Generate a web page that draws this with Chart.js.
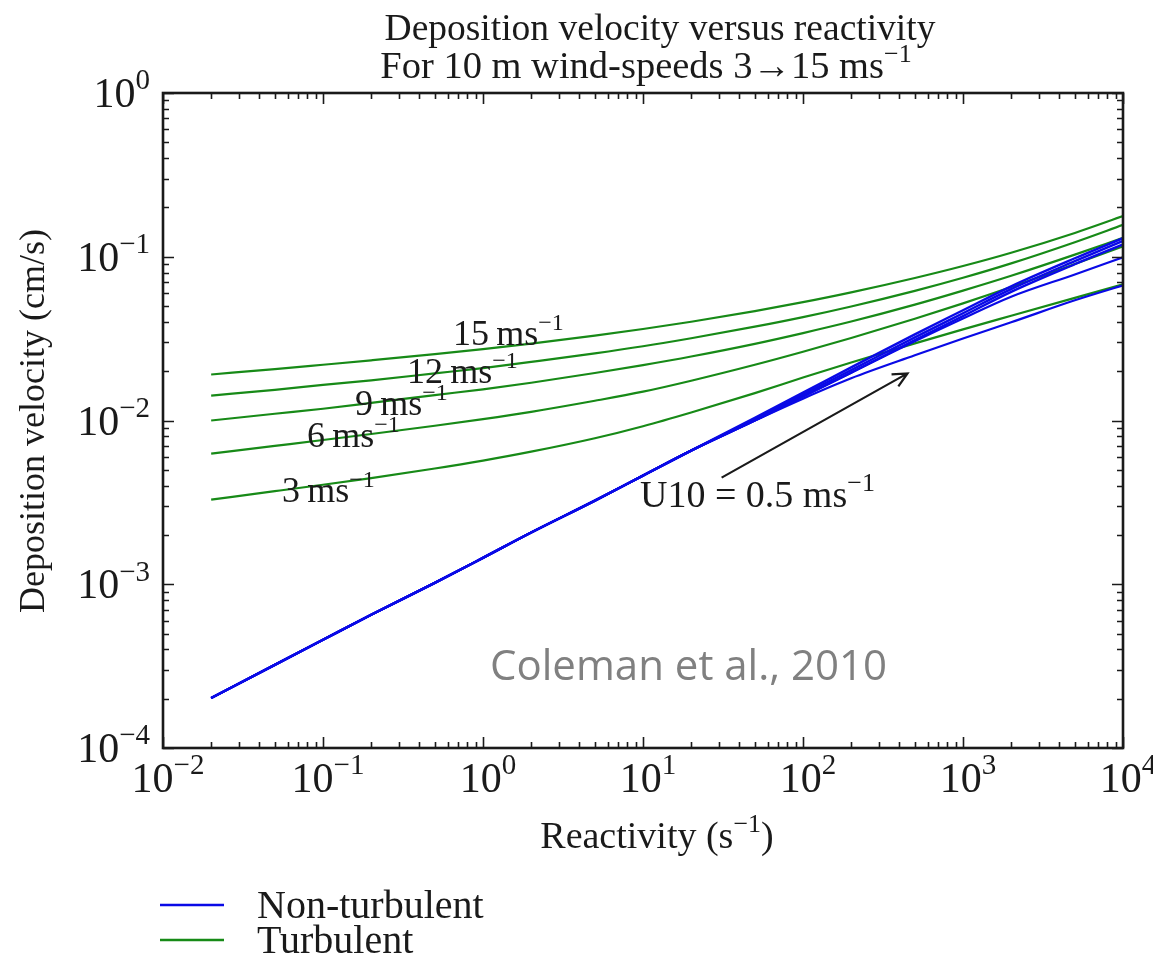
<!DOCTYPE html>
<html lang="en">
<head>
<meta charset="UTF-8">
<title>Deposition velocity versus reactivity</title>
<script src="https://cdn.jsdelivr.net/npm/chart.js"></script>
<style>
  body { margin: 0; background: #fff; }
  canvas { display: block; }
</style>
</head>
<body>
<canvas id="myChart" width="1153" height="958"></canvas>
<script>
// reactivity (s^-1) sample points
const reactivity = [0.02, 0.05, 0.1, 0.2, 0.5, 1, 2, 5, 10, 20, 50, 100, 200, 500, 1000, 2000, 5000, 10000];

// turbulent deposition velocity (cm/s), one list per 10 m wind speed
const turb15 = [0.0191, 0.0206, 0.0219, 0.0233, 0.0254, 0.0273, 0.0295, 0.0330, 0.0362, 0.0401, 0.0466, 0.0528, 0.0606, 0.0742, 0.0878, 0.1058, 0.1398, 0.1771];
const turb12 = [0.0142, 0.0154, 0.0165, 0.0176, 0.0194, 0.0209, 0.0228, 0.0257, 0.0284, 0.0318, 0.0374, 0.0428, 0.0497, 0.0619, 0.0744, 0.0911, 0.1227, 0.1565];
const turb9 = [0.0100, 0.0110, 0.0118, 0.0128, 0.0143, 0.0155, 0.0170, 0.0195, 0.0218, 0.0246, 0.0294, 0.0342, 0.0402, 0.0510, 0.0621, 0.0765, 0.1030, 0.1305];
const turb6 = [0.00628, 0.00700, 0.00760, 0.00827, 0.00929, 0.0102, 0.0113, 0.0132, 0.0150, 0.0175, 0.0219, 0.0263, 0.0319, 0.0418, 0.0519, 0.0653, 0.0902, 0.1159];
const turb3 = [0.00329, 0.00370, 0.00405, 0.00445, 0.00509, 0.00569, 0.00645, 0.00779, 0.00923, 0.0112, 0.0147, 0.0183, 0.0226, 0.0296, 0.0360, 0.0436, 0.0561, 0.0678];

// non-turbulent deposition velocity (cm/s)
const nonTurbA = [2.02e-4, 3.22e-4, 4.58e-4, 6.51e-4, 1.02e-3, 1.45e-3, 2.07e-3, 3.24e-3, 4.61e-3, 6.55e-3, 1.04e-2, 1.48e-2, 2.11e-2, 3.36e-2, 4.71e-2, 6.60e-2, 9.79e-2, 0.130];
const nonTurbB = [2.02e-4, 3.22e-4, 4.58e-4, 6.51e-4, 1.02e-3, 1.45e-3, 2.07e-3, 3.24e-3, 4.61e-3, 6.55e-3, 1.02e-2, 1.44e-2, 2.03e-2, 3.22e-2, 4.52e-2, 6.34e-2, 9.40e-2, 0.125];
const nonTurbC = [2.02e-4, 3.22e-4, 4.58e-4, 6.51e-4, 1.02e-3, 1.45e-3, 2.07e-3, 3.24e-3, 4.61e-3, 6.55e-3, 1.00e-2, 1.40e-2, 1.96e-2, 3.10e-2, 4.34e-2, 6.10e-2, 9.00e-2, 0.119];
const nonTurbD = [2.02e-4, 3.22e-4, 4.58e-4, 6.51e-4, 1.02e-3, 1.45e-3, 2.07e-3, 3.24e-3, 4.61e-3, 6.55e-3, 1.00e-2, 1.40e-2, 1.96e-2, 3.05e-2, 4.20e-2, 5.70e-2, 7.80e-2, 0.0993];
const nonTurb05 = [2.02e-4, 3.22e-4, 4.58e-4, 6.51e-4, 1.02e-3, 1.45e-3, 2.07e-3, 3.24e-3, 4.61e-3, 6.55e-3, 1.00e-2, 1.36e-2, 1.81e-2, 2.50e-2, 3.17e-2, 3.98e-2, 5.42e-2, 0.0669];

// axis decades (exponents of ten)
const xDecades = [-2, -1, 0, 1, 2, 3, 4];
const yDecades = [-4, -3, -2, -1, 0];

const BLUE = '#0a0ae6';
const GREEN = '#178a17';
const serif = '"Liberation Serif", "Times New Roman", serif';

function pts(vals) {
    return reactivity.map((x, i) => ({ x: x, y: vals[i] }));
}

function line(label, vals, color, width) {
    return {
        label: label,
        data: pts(vals),
        showLine: true,
        borderColor: color,
        backgroundColor: color,
        borderWidth: width,
        pointRadius: 0,
        cubicInterpolationMode: 'monotone',
    };
}

// text with superscript pieces: parts = [[text, isSup], ...]
function richText(ctx, parts, x, y, size, align) {
    const small = Math.round(size * 0.68);
    let w = 0;
    parts.forEach(p => {
        ctx.font = (p[1] ? small : size) + 'px ' + serif;
        w += ctx.measureText(p[0]).width;
    });
    let cx = x;
    if (align === 'center') cx = x - w / 2;
    if (align === 'right') cx = x - w;
    ctx.textAlign = 'left';
    ctx.textBaseline = 'alphabetic';
    parts.forEach(p => {
        ctx.font = (p[1] ? small : size) + 'px ' + serif;
        ctx.fillText(p[0], cx, p[1] ? y - size * 0.42 : y);
        cx += ctx.measureText(p[0]).width;
    });
}

const decor = {
    id: 'decor',
    afterDraw(chart) {
        const ctx = chart.ctx;
        const a = chart.chartArea;
        const xs = chart.scales.x, ys = chart.scales.y;
        ctx.save();
        ctx.fillStyle = '#1a1a1a';
        ctx.strokeStyle = '#1a1a1a';

        // inward ticks on all four sides
        ctx.lineWidth = 1.6;
        ctx.beginPath();
        xDecades.forEach(d => {
            for (let k = 1; k <= 9; k++) {
                const v = k * Math.pow(10, d);
                if (v > xs.max * 1.0001) break;
                const px = Math.round(xs.getPixelForValue(v)) + 0.5;
                const len = k === 1 ? 11 : 6;
                ctx.moveTo(px, a.bottom); ctx.lineTo(px, a.bottom - len);
                ctx.moveTo(px, a.top); ctx.lineTo(px, a.top + len);
            }
        });
        yDecades.forEach(d => {
            for (let k = 1; k <= 9; k++) {
                const v = k * Math.pow(10, d);
                if (v > ys.max * 1.0001) break;
                const py = Math.round(ys.getPixelForValue(v)) + 0.5;
                const len = k === 1 ? 11 : 6;
                ctx.moveTo(a.left, py); ctx.lineTo(a.left + len, py);
                ctx.moveTo(a.right, py); ctx.lineTo(a.right - len, py);
            }
        });
        ctx.stroke();

        // frame
        ctx.lineWidth = 2.6;
        ctx.strokeRect(a.left, a.top, a.right - a.left, a.bottom - a.top);

        // tick labels
        xDecades.forEach(d => {
            const px = xs.getPixelForValue(Math.pow(10, d));
            richText(ctx, [['10', false], [String(d).replace('-', '\u2212'), true]], px + 5, a.bottom + 44, 42, 'center');
        });
        yDecades.forEach(d => {
            const py = ys.getPixelForValue(Math.pow(10, d));
            richText(ctx, [['10', false], [String(d).replace('-', '\u2212'), true]], 150, py + 14, 42, 'right');
        });

        // titles
        richText(ctx, [['Deposition velocity versus reactivity', false]], 660, 40, 37.5, 'center');
        richText(ctx, [['For 10 m wind-speeds 3\u219215 ms', false], ['\u22121', true]], 646, 78, 38.5, 'center');
        richText(ctx, [['Reactivity (s', false], ['\u22121', true], [')', false]], 657, 848, 38, 'center');
        ctx.save();
        ctx.translate(44, 421);
        ctx.rotate(-Math.PI / 2);
        richText(ctx, [['Deposition velocity (cm/s)', false]], 0, 0, 36, 'center');
        ctx.restore();

        // wind-speed labels on the turbulent curves
        const speedLabels = [['15', 453, 345], ['12', 407, 383], ['9', 355, 415], ['6', 307, 447], ['3', 282, 502]];
        speedLabels.forEach(s => {
            richText(ctx, [[s[0] + '\u2009ms', false], ['\u22121', true]], s[1], s[2], 36, 'left');
        });

        // arrow to the U10 = 0.5 curve
        const x0 = xs.getPixelForValue(31), y0 = ys.getPixelForValue(4.48e-3);
        const x1 = xs.getPixelForValue(450), y1 = ys.getPixelForValue(1.94e-2);
        const ang = Math.atan2(y1 - y0, x1 - x0);
        ctx.lineWidth = 2.2;
        ctx.beginPath();
        ctx.moveTo(x0, y0); ctx.lineTo(x1, y1);
        ctx.moveTo(x1 - 16 * Math.cos(ang - 0.45), y1 - 16 * Math.sin(ang - 0.45));
        ctx.lineTo(x1, y1);
        ctx.lineTo(x1 - 16 * Math.cos(ang + 0.45), y1 - 16 * Math.sin(ang + 0.45));
        ctx.stroke();
        richText(ctx, [['U10 = 0.5 ms', false], ['\u22121', true]], 640, 507, 38, 'left');

        // citation
        ctx.fillStyle = '#808080';
        ctx.font = '42px "Open Sans", "Noto Sans", sans-serif';
        ctx.textAlign = 'left';
        ctx.fillText('Coleman et al., 2010', 490, 680);

        // legend
        const legend = [['Non-turbulent', BLUE, 905], ['Turbulent', GREEN, 940]];
        legend.forEach(l => {
            ctx.strokeStyle = l[1];
            ctx.lineWidth = 2.5;
            ctx.beginPath();
            ctx.moveTo(160, l[2]); ctx.lineTo(224, l[2]);
            ctx.stroke();
            ctx.fillStyle = '#1a1a1a';
            richText(ctx, [[l[0], false]], 257, l[2] + 13, 40, 'left');
        });
        ctx.restore();
    }
};

const ctx = document.getElementById('myChart');
new Chart(ctx, {
    type: 'scatter',
    data: {
        datasets: [
            line('Non-turbulent', nonTurbA, BLUE, 2.4),
            line('Non-turbulent', nonTurbB, BLUE, 2.4),
            line('Non-turbulent', nonTurbC, BLUE, 2.4),
            line('Non-turbulent', nonTurbD, BLUE, 2.2),
            line('Non-turbulent U10 = 0.5', nonTurb05, BLUE, 2.2),
            line('15 ms-1', turb15, GREEN, 2.2),
            line('12 ms-1', turb12, GREEN, 2.2),
            line('9 ms-1', turb9, GREEN, 2.2),
            line('6 ms-1', turb6, GREEN, 2.2),
            line('3 ms-1', turb3, GREEN, 2.2),
        ]
    },
    options: {
        responsive: false,
        animation: false,
        devicePixelRatio: 1,
        layout: { padding: { left: 163, top: 93, right: 30, bottom: 210 } },
        plugins: { legend: { display: false }, tooltip: { enabled: false } },
        scales: {
            x: {
                type: 'logarithmic', min: 0.01, max: 10000,
                ticks: { display: false }, grid: { display: false }, border: { display: false },
                afterFit: (s) => { s.height = 0; }
            },
            y: {
                type: 'logarithmic', min: 1e-4, max: 1,
                ticks: { display: false }, grid: { display: false }, border: { display: false },
                afterFit: (s) => { s.width = 0; }
            }
        }
    },
    plugins: [decor]
});
</script>
</body>
</html>
